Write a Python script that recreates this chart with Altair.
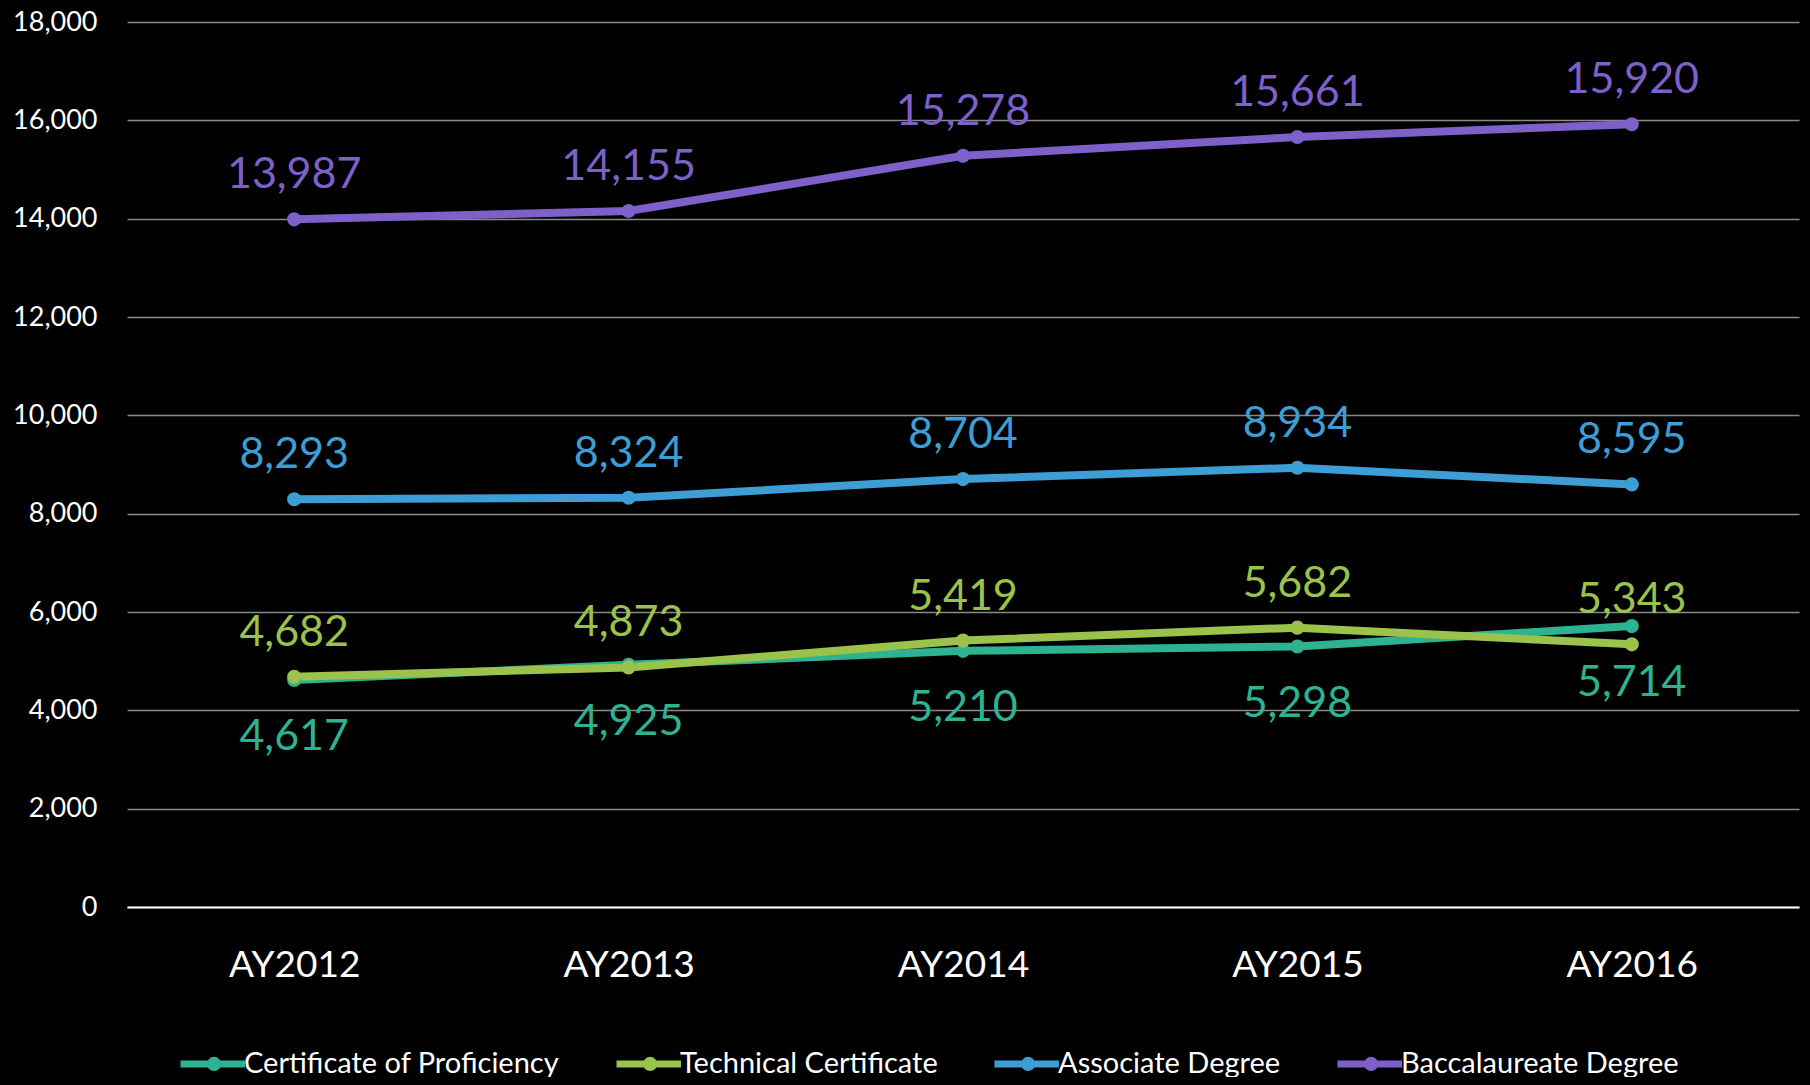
import altair as alt
import pandas as pd

years = ["AY2012", "AY2013", "AY2014", "AY2015", "AY2016"]
series_names = ["Certificate of Proficiency", "Technical Certificate", "Associate Degree", "Baccalaureate Degree"]
cert = [4617, 4925, 5210, 5298, 5714]
tech = [4682, 4873, 5419, 5682, 5343]
assoc = [8293, 8324, 8704, 8934, 8595]
bacc = [13987, 14155, 15278, 15661, 15920]
colors = ["#2DB391", "#9BC24B", "#3C9ED5", "#7D60C9"]
y_ticks = [0, 2000, 4000, 6000, 8000, 10000, 12000, 14000, 16000, 18000]

rows = []
for name, vals in zip(series_names, [cert, tech, assoc, bacc]):
    for yr, v in zip(years, vals):
        rows.append({"year": yr, "series": name, "value": v,
                     "below": name == "Certificate of Proficiency"})
df = pd.DataFrame(rows)

# black page background (the chart itself is black)
try:
    import altair.utils.html as _h

    class _BlackPage:
        def __init__(self, t):
            self.t = t

        def render(self, *a, **k):
            html = self.t.render(*a, **k)
            return html.replace("<style>", "<style>\n    html, body { background: #000; }", 1)

    _orig = _h.TEMPLATES["standard"]
    if not isinstance(_orig, _BlackPage):
        _h.TEMPLATES["standard"] = _BlackPage(_orig)
except Exception:
    pass

FONT = "Lato"
x = alt.X("year:N", title=None, sort=years,
          scale=alt.Scale(type="point", padding=0.5),
          axis=alt.Axis(labelAngle=0, labelFontSize=37, labelColor="white", labelFont=FONT,
                        labelPadding=40, ticks=False, domainColor="white", domainWidth=2,
                        grid=False))
y = alt.Y("value:Q", title=None, scale=alt.Scale(domain=[0, 18000], nice=False),
          axis=alt.Axis(values=y_ticks, format=",d", labelFontSize=27, labelColor="white",
                        labelFont=FONT, labelPadding=30, ticks=False, domain=False,
                        grid=True, gridColor="#8a8a8a", gridWidth=1.5))
color = alt.Color("series:N", sort=series_names,
                  scale=alt.Scale(domain=series_names, range=colors),
                  legend=alt.Legend(title=None, orient="none", legendX=50, legendY=1008,
                                    direction="horizontal", columns=4, columnPadding=42,
                                    symbolType="M-1,0L1.15,0M0.0,0A0.12,0.12 0 1,1 0.24,0A0.12,0.12 0 1,1 0.0,0",
                                    symbolSize=3600, symbolStrokeWidth=7,
                                    labelFontSize=29, labelFont=FONT, labelColor="white",
                                    labelOffset=0, labelLimit=600))

base = alt.Chart(df)
lines = base.mark_line(strokeWidth=8, point=alt.OverlayMarkDef(filled=True, size=200)).encode(
    x=x, y=y, color=color)
labels_above = base.transform_filter("!datum.below").mark_text(
    dy=-44, fontSize=43, font=FONT).encode(
    x=alt.X("year:N", sort=years), y="value:Q",
    text=alt.Text("value:Q", format=",d"),
    color=alt.Color("series:N", legend=None))
labels_below = base.transform_filter("datum.below").mark_text(
    dy=57, fontSize=43, font=FONT).encode(
    x=alt.X("year:N", sort=years), y="value:Q",
    text=alt.Text("value:Q", format=",d"),
    color=alt.Color("series:N", legend=None))

chart = alt.layer(lines, labels_above, labels_below).properties(
    width=1672, height=885,
    autosize=alt.AutoSizeParams(type="none"),
    padding={"left": 119, "top": 14, "right": 3, "bottom": 170},
    background="black",
).configure_view(stroke=None)

chart.save("out.html", embed_options={"renderer": "svg", "actions": False})
